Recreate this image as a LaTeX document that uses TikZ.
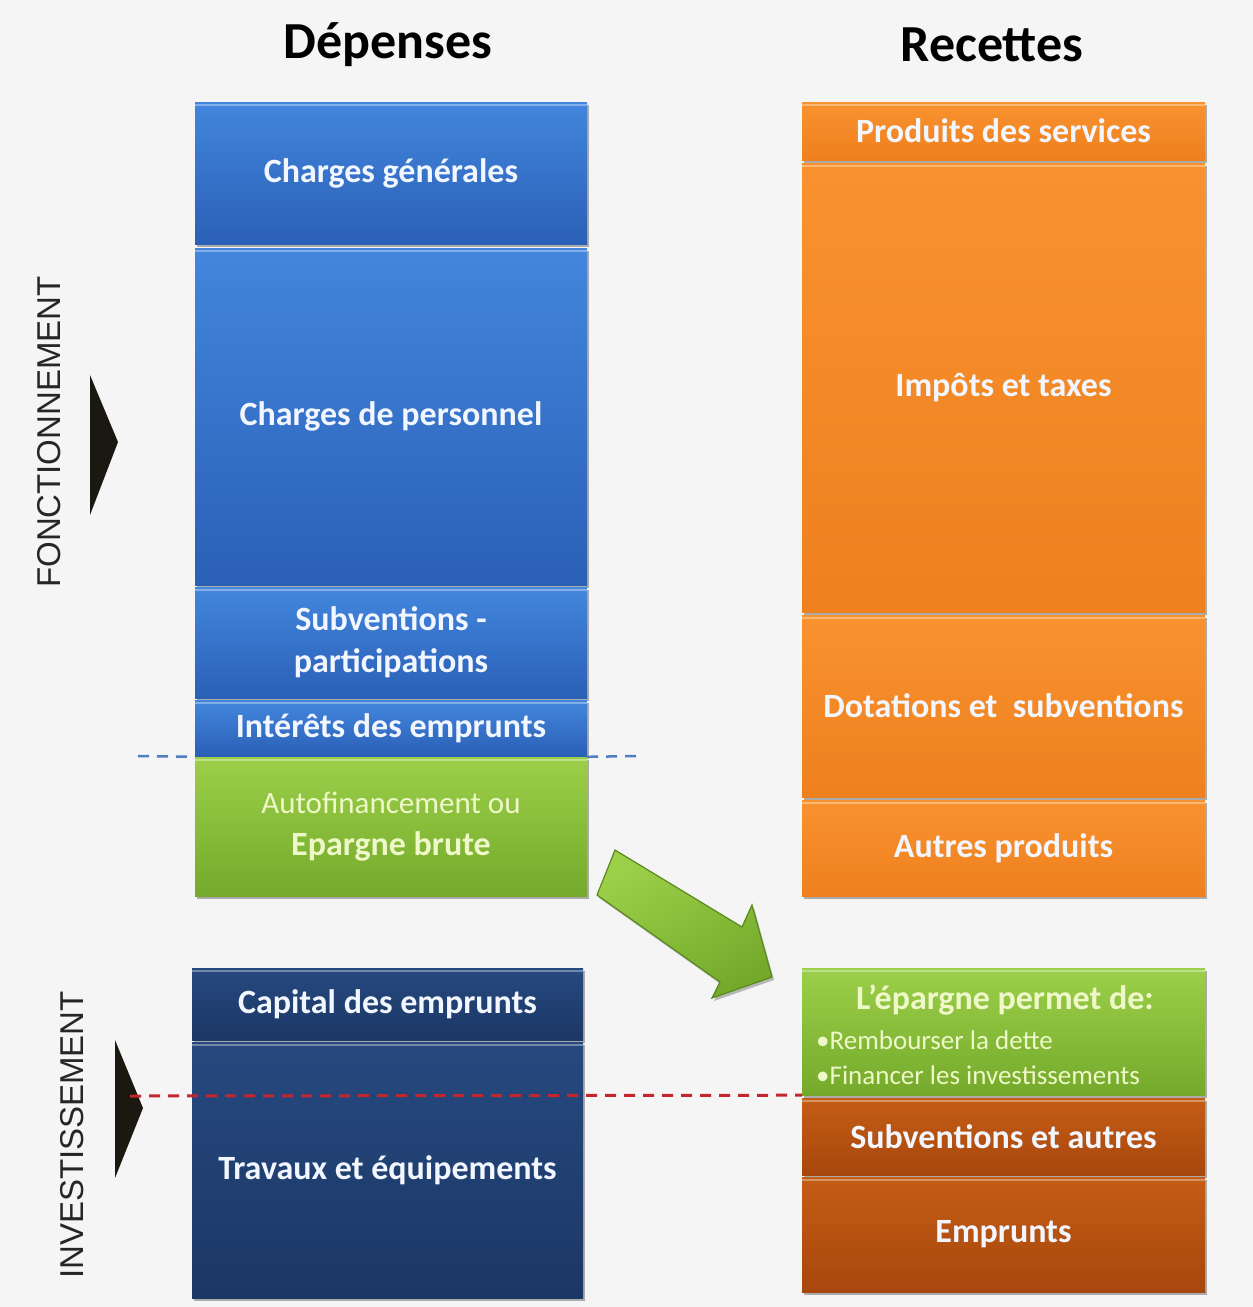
\documentclass[tikz,border=0pt]{standalone}
\usepackage{fontspec}
\setmainfont{Carlito}
\newfontfamily\gothic{Liberation Sans}
\usetikzlibrary{shadows}
\definecolor{bgcol}{HTML}{F5F5F5}
\definecolor{blueT}{HTML}{4386DD}
\definecolor{blueB}{HTML}{2A60B6}
\definecolor{navyT}{HTML}{27497F}
\definecolor{navyB}{HTML}{1B3765}
\definecolor{greenT}{HTML}{9CD04A}
\definecolor{greenB}{HTML}{74A92B}
\definecolor{greenD}{HTML}{5A8A1C}
\definecolor{orT}{HTML}{F8922F}
\definecolor{orB}{HTML}{EF801E}
\definecolor{dorT}{HTML}{C45D16}
\definecolor{dorB}{HTML}{A8470C}
\definecolor{txtW}{HTML}{F2F6FF}
\definecolor{txtG}{HTML}{EEF8C8}
\definecolor{dashBlue}{HTML}{4F7FBF}
\definecolor{dashRed}{HTML}{C4262E}
\definecolor{tri}{HTML}{1A1810}
\tikzset{
  blk/.style={inner sep=0pt, align=center, text=txtW,
    font=\bfseries\fontsize{34}{42}\selectfont,
    drop shadow={shadow xshift=2pt, shadow yshift=-3pt, opacity=0.3, fill=black},
    path picture={\draw[white, opacity=0.35, line width=2.5pt]
      ([yshift=-3pt]path picture bounding box.north west) --
      ([yshift=-3pt]path picture bounding box.north east);}},
  bluebox/.style={blk, top color=blueT, bottom color=blueB},
  navybox/.style={blk, top color=navyT, bottom color=navyB},
  greenbox/.style={blk, top color=greenT, bottom color=greenB, text=txtG},
  orbox/.style={blk, top color=orT, bottom color=orB},
  dorbox/.style={blk, top color=dorT, bottom color=dorB},
  title/.style={font=\bfseries\fontsize{52}{60}\selectfont, text=black},
  side/.style={font=\gothic\fontsize{33}{38}\selectfont, rotate=90, text=black!85},
  dline/.style={dashed, dash pattern=on 11pt off 8pt, line width=3pt},
}
\begin{document}
\begin{tikzpicture}[x=1pt,y=-1pt]
\useasboundingbox (0,0) rectangle (1253,1307);
\fill[bgcol] (0,0) rectangle (1253,1307);

% titles
\node[title] (tdep) at (388,45) {Dépenses};
\node[title] (trec) at (992,45) {Recettes};

% side labels
\node[side] (lfonc) at (49,432) {FONCTIONNEMENT};
\node[side] (linv) at (72,1135) {INVESTISSEMENT};
\fill[tri] (90,375) -- (118,442) -- (90,515) -- cycle;
\fill[tri] (115,1040) -- (143,1108) -- (115,1178) -- cycle;

% blue dashed line ends
\coordinate (bl1) at (138,756);
\coordinate (bl2) at (642,756);

% left column (fonctionnement)
\node[bluebox, minimum width=392pt, minimum height=142pt] (cg) at (391,173) {Charges générales};
\node[bluebox, minimum width=392pt, minimum height=337pt] (cp) at (391,416.5) {Charges de personnel};
\node[bluebox, minimum width=392pt, minimum height=111pt] (sp) at (391,642.5) {Subventions -\\participations};
\node[bluebox, minimum width=392pt, minimum height=56pt] (ie) at (391,728) {Intérêts des emprunts};
\node[greenbox, minimum width=392pt, minimum height=139pt] (af) at (391,826.5)
  {{\mdseries\fontsize{31}{42}\selectfont Autofinancement ou}\\Epargne brute};
\draw[dline, dashBlue, line width=2.5pt] (bl1) -- (af.north west);
\draw[dline, dashBlue, line width=2.5pt] (af.north east) -- (bl2);

% left column (investissement)
\node[navybox, minimum width=391pt, minimum height=72pt] (ce) at (387.5,1004) {Capital des emprunts};
\node[navybox, minimum width=391pt, minimum height=256pt] (te) at (387.5,1170) {Travaux et équipements};

% right column (fonctionnement)
\node[orbox, minimum width=403pt, minimum height=58pt] (ps) at (1003.5,131) {Produits des services};
\node[orbox, minimum width=403pt, minimum height=449pt] (it) at (1003.5,387.5) {Impôts et taxes};
\node[orbox, minimum width=403pt, minimum height=182pt] (ds) at (1003.5,706) {Dotations et\ \ subventions};
\node[orbox, minimum width=403pt, minimum height=96pt] (ap) at (1003.5,848) {Autres produits};

% right column (investissement)
\node[greenbox, minimum width=403pt, minimum height=127pt] (ep) at (1003.5,1031.5) {};
\node[text=txtG, font=\bfseries\fontsize{34}{40}\selectfont, inner sep=0pt] (ept) at (1005,1000) {L’épargne permet de:};
\node[text=txtG, font=\fontsize{27}{34}\selectfont, inner sep=0pt, anchor=west] (epb1) at (816,1040) {\textbullet Rembourser la dette};
\node[text=txtG, font=\fontsize{27}{34}\selectfont, inner sep=0pt, anchor=west] (epb2) at (816,1075) {\textbullet Financer les investissements};
\node[dorbox, minimum width=403pt, minimum height=77pt] (sa) at (1003.5,1136.5) {Subventions et autres};
\node[dorbox, minimum width=403pt, minimum height=115pt] (em) at (1003.5,1234.5) {Emprunts};

% red dashed line
\coordinate (rl1) at (130,1096);
\draw[dline, dashRed] (rl1) -- (ep.south west);

% green block arrow
\draw[greenD, line width=1.2pt, top color=greenT, bottom color=greenB, shading angle=30,
      drop shadow={shadow xshift=2pt, shadow yshift=-3pt, opacity=0.25, fill=black}]
  (615,850) -- (742,927) -- (752,905) -- (772,977) -- (712,998) -- (720,982) -- (597,895) -- cycle;
\end{tikzpicture}
\end{document}
